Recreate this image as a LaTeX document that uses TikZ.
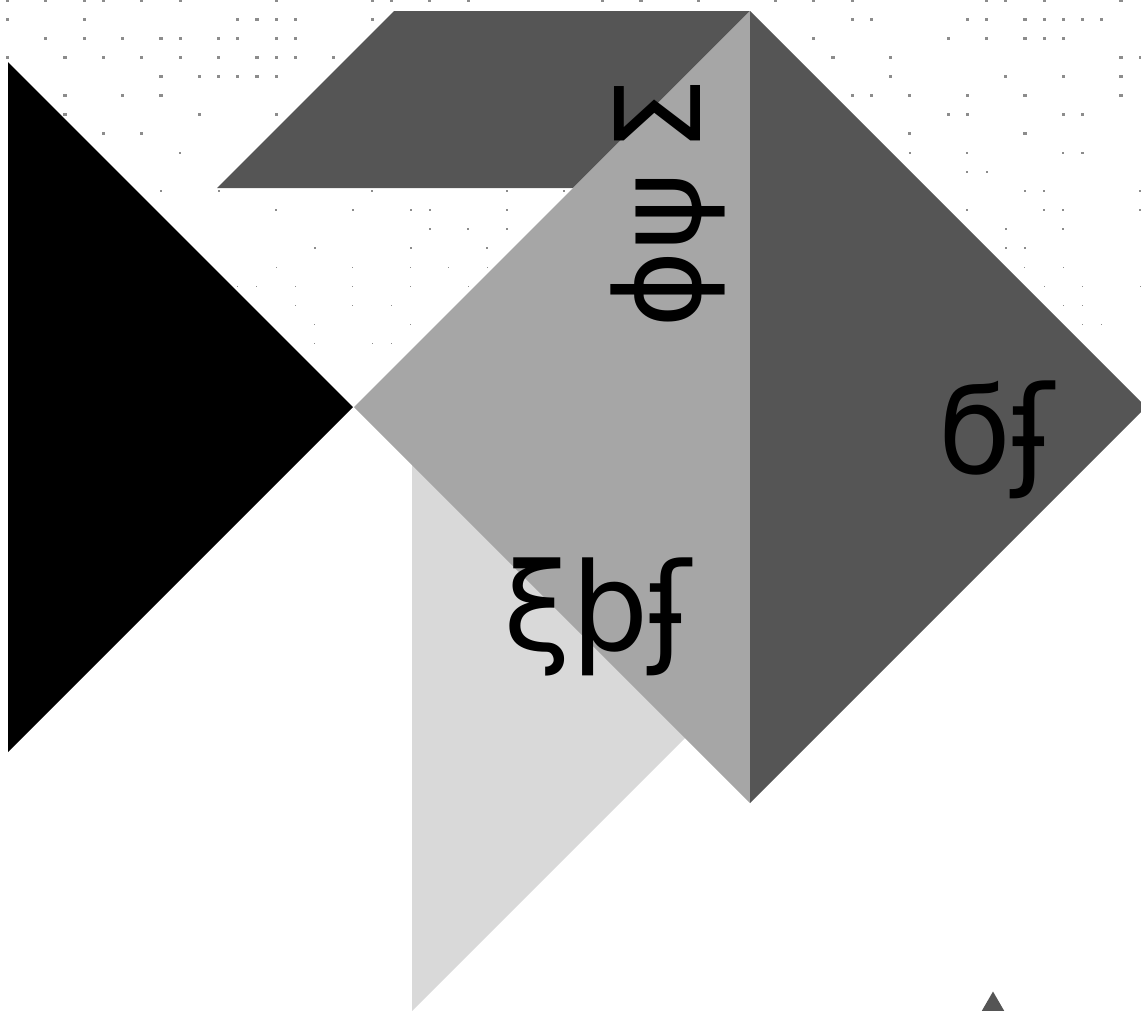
\documentclass[tikz,border=0pt]{standalone}
\usepackage{fontspec}
\setmainfont{DejaVu Sans}
\definecolor{darkg}{RGB}{85,85,85}
\definecolor{midg}{RGB}{166,166,166}
\definecolor{lightg}{RGB}{217,217,217}
\definecolor{dotc}{RGB}{140,140,140}
\tikzset{
  lbl/.style={inner sep=0pt, outer sep=0pt, anchor=base, text=black},
  bigfont/.style={font=\fontsize{122}{122}\selectfont},
  rotfont/.style={font=\fontsize{118}{118}\selectfont},
}
\begin{document}
\begin{tikzpicture}[x=1pt,y=-1pt]
\useasboundingbox (0,0) rectangle (1141,1010);
\clip (0,0) rectangle (1141,1010);
% dot grid
\foreach \j/\s/\cols in {
  0/3.2/{0,2,4,5,7,9,14,19,20,22,24,31,33,36,40,42,44,51,52,54,58},
  1/3.2/{0,4,12,13,14,15,19,44,45,50,51,53,54,55,56,57},
  2/3.2/{2,4,6,8,9,11,12,14,15,42,49,51,53,54,55},
  3/3.2/{0,3,5,7,9,11,13,14,15,17,43,46,58,59},
  4/3.2/{8,10,11,12,13,14,46,52,55,58},
  5/3.2/{3,6,8,44,45,47,50,53,58},
  6/3.2/{3,10,14,49,50,55,56},
  7/3.2/{5,7,47,53},
  8/2.3/{9,47,50,55,56},
  9/2.0/{50,51},
  10/2.0/{8,11,19,26,29,53,54,59},
  11/2.0/{14,18,21,22,26,50,54,55,59},
  12/2.0/{22,24,26,52,55},
  13/2.0/{16,21,25,52,53},
  14/1.1/{14,18,21,23,25,53,55},
  15/1.1/{12,13,15,18,21,24,54,56,59},
  16/1.1/{15,18,20,55,56},
  17/1.1/{16,21,56,57},
  18/1.1/{16,19,20}}
{
  \foreach \i in \cols {
    \fill[dotc] ({7.3+19.2*\i-\s/2},{19.1*\j-\s/2}) rectangle ++(\s,\s);
  }
}
% black triangle
\fill[black] (8,62) -- (8,752) -- (353,407) -- cycle;
% dark parallelogram
\fill[darkg] (217,188) -- (394,11) -- (750,11) -- (573,188) -- cycle;
% light gray triangle
\fill[lightg] (412,430) -- (412,1011) -- (993,430) -- cycle;
% mid gray triangle
\fill[midg] (750,11) -- (354,407) -- (750,803) -- cycle;
% dark gray triangle
\fill[darkg] (750,11) -- (1146,407) -- (750,803) -- cycle;
% small triangle bottom right
\fill[darkg] (993,991.5) -- (980,1014) -- (1006,1014) -- cycle;
% labels
\node[lbl, rotfont, rotate=90] (t1) at (700,203) {ɸψ\kern20ptΣ};
\node[lbl, bigfont] (t2) at (996,473) {ϭʄ};
\node[lbl, bigfont] (t3) at (597,650) {ξþʄ};
\end{tikzpicture}
\end{document}
